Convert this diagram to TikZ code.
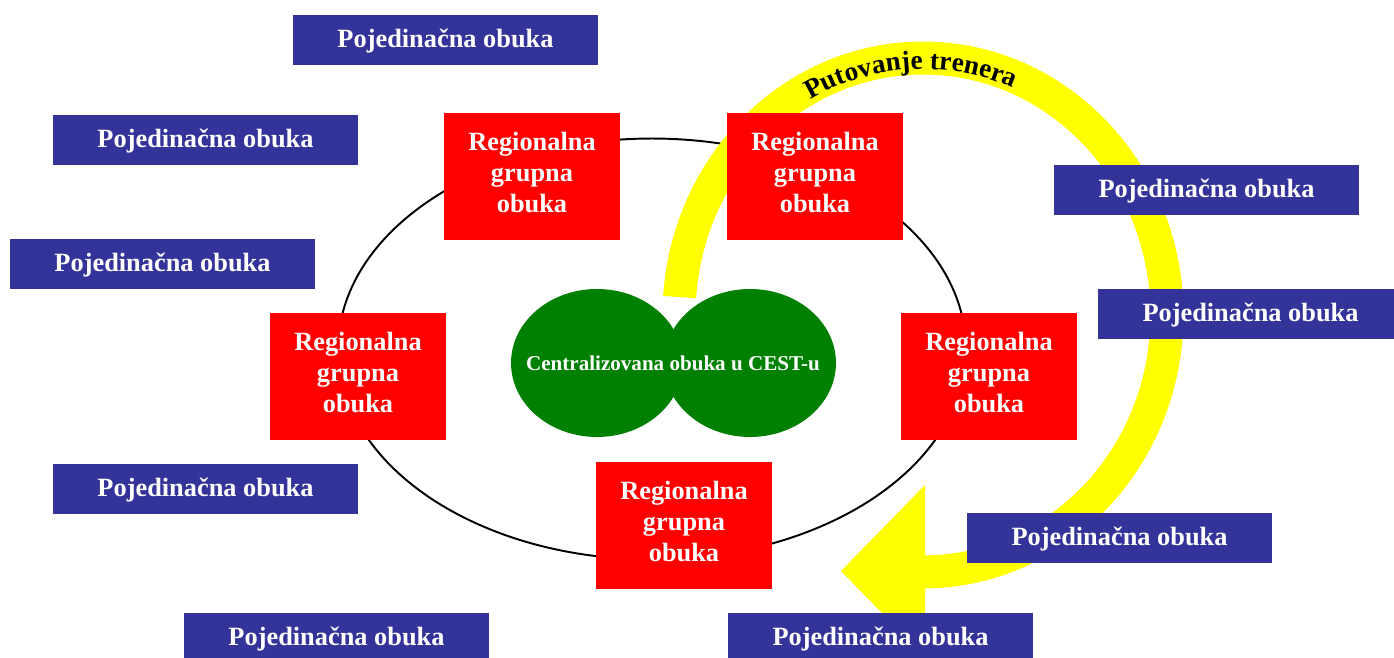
\documentclass[tikz,border=0pt]{standalone}
\usepackage{fontspec}
\setmainfont{Liberation Serif}
\usetikzlibrary{decorations.text}
\definecolor{pojedblue}{HTML}{333399}
\definecolor{regred}{HTML}{FF0000}
\definecolor{centgreen}{HTML}{008000}
\definecolor{putyellow}{HTML}{FFFF00}
\tikzset{
	pojed/.style={rectangle, fill=pojedblue, text=white, inner sep=0pt,
		minimum width=6.1cm, minimum height=1cm, text depth=0pt, text height=0.3cm,
		font=\fontsize{15}{18}\selectfont\bfseries},
	region/.style={rectangle, fill=regred, inner sep=0pt,
		minimum width=3.52cm, minimum height=2.54cm},
	regtext/.style={text=white, align=center, inner sep=0pt,
		font=\fontsize{15}{17.6}\selectfont\bfseries},
	centar/.style={fill=centgreen},
}
\begin{document}
\begin{tikzpicture}[x=0.02cm, y=0.02cm]
		\useasboundingbox (0,0) rectangle (1394,658);
		\clip (0,0) rectangle (1394,658);
		%
		%draw ellipse
		\draw[black, line width=1.1pt] (652,309) ellipse [x radius=6.28cm, y radius=4.21cm];
		%
		%yellow arrow
		\coordinate (put) at (923,343);
		\draw[putyellow, line width=0.66cm] (put) ++(176:4.88cm and 5.14cm) arc[start angle=176, end angle=-90, x radius=4.88cm, y radius=5.14cm];
		\fill[putyellow] (925,173) -- (841,87) -- (925,1) -- cycle;
		\path (put) ++(150:4.66cm and 4.92cm) coordinate (tstart);
		\path[decorate, decoration={text effects along path, text={Putovanje trenera}, text align=center,
			text effects/.cd, text along path,
			characters={font=\fontsize{15.5}{18}\selectfont\bfseries, inner xsep=0pt}}]
			(tstart) arc[start angle=150, end angle=36, x radius=4.66cm, y radius=4.92cm];
		%
		%
		\fill[centar] (597,295) ellipse [x radius=1.72cm, y radius=1.48cm];
		\fill[centar] (750,295) ellipse [x radius=1.72cm, y radius=1.48cm];
		\node (cest) at (673,295) [text=white, font=\fontsize{12}{14}\selectfont\bfseries] {Centralizovana obuka u CEST-u};
		%
		%
		\foreach \name/\Point in {rA/{(532,481.5)}, rB/{(815,481.5)}, rC/{(358,281.5)}, rD/{(989,281.5)}, rE/{(684,132.5)}}{
			\node[region] (\name) at \Point {};
			\node[regtext] (\name t) at ([yshift=0.08cm]\name.center) {Regionalna\\grupna\\obuka};
		}
		%
		%
		\foreach \name/\Point in {p1/{(445.5,618)}, p2/{(205.5,518)}, p3/{(162.5,394)}, p4/{(1206.5,468)}, p5/{(1250.5,344)}, p6/{(205.5,169)}, p7/{(1119.5,120)}, p8/{(336.5,20)}, p9/{(880.5,20)}}{
			\node[pojed] (\name) at \Point {Pojedinačna obuka};
		}
	\end{tikzpicture}
\end{document}
